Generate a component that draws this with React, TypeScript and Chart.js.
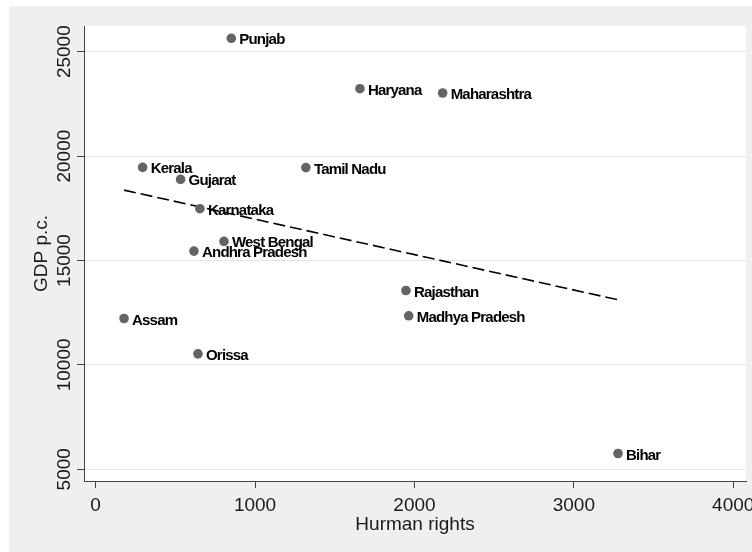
import React, { useEffect, useRef } from "react";
import { Chart, registerables } from "chart.js";

Chart.register(...registerables);

const states = [
  "Punjab", "Haryana", "Maharashtra", "Kerala", "Tamil Nadu", "Gujarat", "Karnataka",
  "West Bengal", "Andhra Pradesh", "Assam", "Orissa", "Rajasthan", "Madhya Pradesh", "Bihar",
];
const humanRights = [851, 1658, 2177, 295, 1319, 533, 654, 805, 617, 178, 642, 1947, 1964, 3277];
const gdpPc = [25642, 23228, 23022, 19459, 19450, 18884, 17481, 15914, 15450, 12222, 10530, 13563, 12351, 5757];
const fitX = [178, 3277];
const fitY = [18372, 13118];
const xTicks = [0, 1000, 2000, 3000, 4000];
const yTicks = [5000, 10000, 15000, 20000, 25000];
const xTitle = "Hurman rights";
const yTitle = "GDP p.c.";

const TICK_FONT = "19px 'Liberation Sans', Arial, sans-serif";
const LABEL_FONT = "bold 15px 'Liberation Sans', Arial, sans-serif";

export default function App() {
  const ref = useRef<HTMLCanvasElement | null>(null);

  useEffect(() => {
    const canvas = ref.current;
    if (!canvas) return;

    const bgPlugin = {
      id: "bg",
      beforeDraw(chart: any) {
        const { ctx, chartArea } = chart;
        ctx.save();
        ctx.fillStyle = "#ffffff";
        ctx.fillRect(0, 0, 752, 552);
        ctx.fillStyle = "#efefef";
        ctx.fillRect(9, 6, 743, 546);
        ctx.fillStyle = "#ffffff";
        ctx.fillRect(chartArea.left, chartArea.top, chartArea.right - chartArea.left, chartArea.bottom - chartArea.top);
        ctx.restore();
      },
    };

    const textPlugin = {
      id: "texts",
      afterDraw(chart: any) {
        const { ctx, chartArea } = chart;
        const xs = chart.scales.x;
        const ys = chart.scales.y;
        ctx.save();
        ctx.fillStyle = "#1a1a1a";
        ctx.font = TICK_FONT;
        ctx.textAlign = "center";
        ctx.textBaseline = "alphabetic";
        xTicks.forEach((v) => {
          ctx.fillText(String(v), xs.getPixelForValue(v), 511);
        });
        ctx.fillText(xTitle, (chartArea.left + chartArea.right) / 2, 529.5);
        yTicks.forEach((v) => {
          ctx.save();
          ctx.translate(70, ys.getPixelForValue(v));
          ctx.rotate(-Math.PI / 2);
          ctx.fillText(String(v), 0, 0);
          ctx.restore();
        });
        ctx.save();
        ctx.translate(47, (chartArea.top + chartArea.bottom) / 2);
        ctx.rotate(-Math.PI / 2);
        ctx.fillText(yTitle, 0, 0);
        ctx.restore();

        // point labels
        ctx.font = LABEL_FONT;
        ctx.textAlign = "left";
        ctx.fillStyle = "#000000";
        try { (ctx as any).letterSpacing = "-0.8px"; } catch (e) {}
        states.forEach((s, i) => {
          const px = xs.getPixelForValue(humanRights[i]);
          const py = ys.getPixelForValue(gdpPc[i]);
          ctx.fillText(s, px + 8, py + 6);
        });
        ctx.restore();
      },
    };

    const chart = new Chart(canvas, {
      type: "scatter",
      data: {
        datasets: [
          {
            label: "states",
            data: humanRights.map((x, i) => ({ x, y: gdpPc[i] })),
            backgroundColor: "#646464",
            borderColor: "#646464",
            pointRadius: 4.8,
            pointBorderWidth: 0,
          },
          {
            label: "fit",
            type: "line",
            data: fitX.map((x, i) => ({ x, y: fitY[i] })),
            borderColor: "#000000",
            borderWidth: 1.6,
            borderDash: [12, 5],
            pointRadius: 0,
            fill: false,
            showLine: true,
          } as any,
        ],
      },
      options: {
        animation: false,
        responsive: false,
        devicePixelRatio: 1,
        layout: { padding: { top: 26, left: 9, right: 6, bottom: 0 } },
        plugins: { legend: { display: false }, tooltip: { enabled: false } },
        scales: {
          x: {
            type: "linear",
            min: -73,
            max: 4080,
            afterBuildTicks: (scale: any) => {
              scale.ticks = xTicks.map((v) => ({ value: v }));
            },
            afterFit: (scale: any) => {
              scale.height = 71;
            },
            ticks: { display: false },
            grid: { drawOnChartArea: false, drawTicks: true, tickLength: 7, tickColor: "#444444", tickWidth: 1 },
            border: { display: true, color: "#444444", width: 1 },
          },
          y: {
            type: "linear",
            min: 4440,
            max: 26231,
            afterBuildTicks: (scale: any) => {
              scale.ticks = yTicks.map((v) => ({ value: v }));
            },
            afterFit: (scale: any) => {
              scale.width = 75;
            },
            ticks: { display: false },
            grid: { drawOnChartArea: true, color: "#e4e4e4", lineWidth: 1, drawTicks: true, tickLength: 7, tickColor: "#444444", tickWidth: 1 },
            border: { display: true, color: "#444444", width: 1 },
          },
        },
      },
      plugins: [bgPlugin, textPlugin],
    });
    return () => chart.destroy();
  }, []);

  return (
    <div style={{ position: "fixed", left: 0, top: 0, width: 752, height: 552, background: "#ffffff" }}>
      <canvas ref={ref} width={752} height={552} style={{ width: 752, height: 552, display: "block" }} />
    </div>
  );
}
